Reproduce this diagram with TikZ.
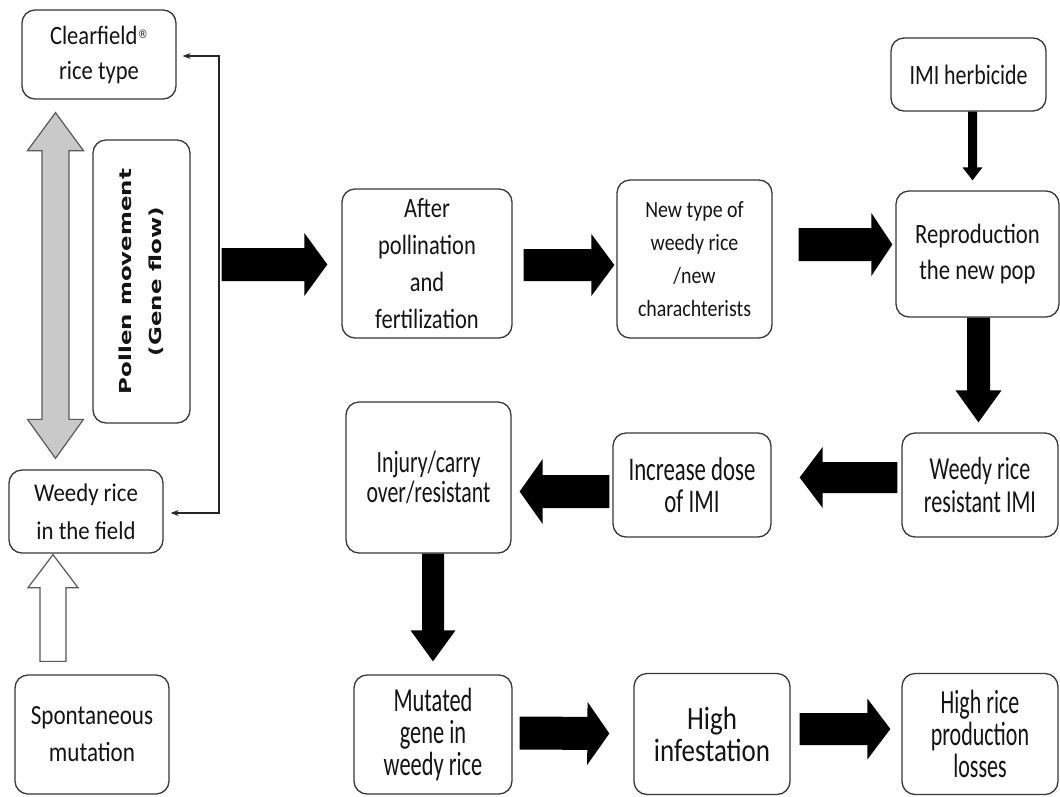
\documentclass[tikz,border=0pt]{standalone}
\usepackage{fontspec}
\usepackage{graphicx}
\setmainfont{Carlito}
\newfontfamily\polfont{DejaVu Sans}
\usetikzlibrary{calc,arrows.meta}

% centred lines of box text: #1 font size, #2 vertical scale, #3 line pitch, #4 lines
\newcommand\bt[4]{\scalebox{1}[#2]{\fontsize{#1pt}{#3pt}\selectfont
  \lineskiplimit=-200pt\lineskip=0pt\let\\\cr
  \vbox{\halign{\hfil##\hfil\cr#4\crcr}}}}

% raised registered sign
\newcommand\regmark{\kern0.5pt\raise5pt\hbox{\polfont\fontsize{10pt}{10pt}\selectfont ®}}

% block arrow from #2 to #3: shaft half width #4, head half width #5, head length #6
\newcommand\blockarrow[6][]{%
  \coordinate (hb) at ($(#3)!#6!(#2)$);
  \path[#1] ($(#2)!#4!90:(#3)$) -- ($(hb)!#4!-90:(#2)$) -- ($(hb)!#5!-90:(#2)$)
    -- (#3) -- ($(hb)!#5!90:(#2)$) -- ($(hb)!#4!90:(#2)$)
    -- ($(#2)!#4!-90:(#3)$) -- cycle;
}

\begin{document}
\begin{tikzpicture}[x=1pt,y=-1pt,
  box/.style={draw=black!78, line width=1.3pt, rounded corners=13pt,
    inner sep=0pt, text=black!92, fill=white},
  blk/.style={fill=black},
  grayar/.style={fill=black!21, draw=black!65, line width=1.2pt, line join=miter},
  whitear/.style={fill=white, draw=black!65, line width=1.2pt, line join=miter},
  link/.style={draw=black!85, line width=1.1pt,
    {Stealth[length=8pt,width=6pt]}-{Stealth[length=8pt,width=6pt]}}]

\fill[white] (0,0) rectangle (1060,796);
\useasboundingbox (0,0) rectangle (1060,796);

% left column
\node[box, minimum width=154pt, minimum height=89pt] (clear) at (99,54.5)
  {\bt{22.6}{1.17}{30}{Clearfield\regmark\\rice type}};
\node[box, minimum width=97pt, minimum height=283pt] (pollen) at (141.5,281.5)
  {\rotatebox{90}{\scalebox{1.39}[1]{\polfont\bfseries\fontsize{16.5pt}{30pt}\selectfont
    \lineskiplimit=-200pt\let\\\cr
    \vbox{\halign{\hfil#\hfil\cr Pollen movement\\(Gene flow)\crcr}}}}};
\node[box, minimum width=154pt, minimum height=83pt] (weedy) at (86,511.5)
  {\bt{22.8}{1.12}{34}{Weedy rice\\in the field}};
\node[box, minimum width=154pt, minimum height=119pt] (spont) at (92,734.5)
  {\bt{23.1}{1.2}{30.8}{Spontaneous\\mutation}};

% top row
\node[box, minimum width=170pt, minimum height=149pt] (after) at (427,263.5)
  {\bt{22.5}{1.24}{29.8}{After\\pollination\\and\\fertilization}};
\node[box, minimum width=155pt, minimum height=158pt] (newtype) at (694.5,259)
  {\bt{19.9}{1.17}{28.2}{New type of\\weedy rice\\/new\\charachterists}};
\node[box, minimum width=155pt, minimum height=73pt] (imi) at (968.5,74.5)
  {\bt{21.9}{1.28}{30}{IMI herbicide}};
\node[box, minimum width=163pt, minimum height=126pt] (repro) at (977.5,254)
  {\bt{22.7}{1.23}{30}{Reproduction\\the new pop}};

% middle row
\node[box, minimum width=156pt, minimum height=104pt] (wres) at (980,485)
  {\bt{22.1}{1.45}{22.1}{Weedy rice\\resistant IMI}};
\node[box, minimum width=158pt, minimum height=104pt] (incr) at (692,485)
  {\bt{22.8}{1.45}{22.1}{Increase dose\\of IMI}};
\node[box, minimum width=165pt, minimum height=151pt] (injury) at (428.5,477.5)
  {\raisebox{-6pt}{\bt{21.8}{1.42}{21.1}{Injury/carry\\over/resistant}}};

% bottom row
\node[box, minimum width=158pt, minimum height=119pt] (mut) at (433,734.5)
  {\bt{22.4}{1.5}{21.3}{Mutated\\gene in\\weedy rice}};
\node[box, minimum width=156pt, minimum height=121pt] (high) at (712,734)
  {\bt{27}{1.2}{26.5}{High\\infestation}};
\node[box, minimum width=156pt, minimum height=121pt] (losses) at (980,734)
  {\bt{22}{1.53}{21}{High rice\\production\\losses}};

% gene flow link between the two rice types
\coordinate (vx) at (219,300);
\draw[link] ($(clear.east)+(6,1.5)$) -| (vx) |- ($(weedy.east)+(7,1.5)$);

% grey double arrow: pollen exchange
\coordinate (gt) at ($(clear.south)+(-43.5,13)$);
\coordinate (gb) at ($(weedy.north)+(-30.5,-11)$);
\coordinate (h1) at ($(gt)!38pt!(gb)$);
\coordinate (h2) at ($(gb)!39pt!(gt)$);
\path[grayar] (gt) -- ($(h1)!28pt!90:(gb)$) -- ($(h1)!13.5pt!90:(gb)$)
  -- ($(h2)!13.5pt!-90:(gt)$) -- ($(h2)!28pt!-90:(gt)$) -- (gb)
  -- ($(h2)!28pt!90:(gt)$) -- ($(h2)!13.5pt!90:(gt)$)
  -- ($(h1)!13.5pt!-90:(gb)$) -- ($(h1)!28pt!-90:(gb)$) -- cycle;

% hollow arrow: spontaneous mutation feeds weedy rice
\coordinate (ws) at ($(spont.north)+(-39,-13)$);
\coordinate (we) at ($(weedy.south)+(-33,1)$);
\blockarrow[whitear]{ws}{we}{13pt}{25pt}{33pt}

% main flow
\coordinate (a1s) at ($(pollen.east |- after.west)+(31,1)$);
\coordinate (a1e) at ($(after.west)+(-14,1)$);
\blockarrow[blk]{a1s}{a1e}{16.5pt}{31.5pt}{23pt}

\coordinate (a2s) at ($(after.east)+(11,1.5)$);
\coordinate (a2e) at ($(newtype.west)+(-2,6)$);
\blockarrow[blk]{a2s}{a2e}{16pt}{31pt}{23pt}

\coordinate (a3s) at ($(newtype.east |- repro.west)+(26,-9.5)$);
\coordinate (a3e) at ($(repro.west)+(-3,-9.5)$);
\blockarrow[blk]{a3s}{a3e}{16.5pt}{31.5pt}{21pt}

\coordinate (a4s) at ($(imi.south)+(4,0)$);
\coordinate (a4e) at ($(repro.north)+(-5,-10)$);
\blockarrow[blk]{a4s}{a4e}{4.5pt}{10pt}{13pt}

\coordinate (a5s) at ($(repro.south)+(1,0)$);
\coordinate (a5e) at ($(wres.north)+(-1.5,-10)$);
\blockarrow[blk]{a5s}{a5e}{11.5pt}{23pt}{32pt}

\coordinate (a6s) at ($(wres.west)+(-4,-7.5)$);
\coordinate (a6e) at ($(incr.east)+(28,-7.5)$);
\blockarrow[blk]{a6s}{a6e}{15.5pt}{30.5pt}{23pt}

\coordinate (a7s) at ($(incr.west)+(-3,6.5)$);
\coordinate (a7e) at ($(injury.east)+(8,14)$);
\blockarrow[blk]{a7s}{a7e}{16.5pt}{32.5pt}{23pt}

\coordinate (a8s) at ($(injury.south)+(4.5,0)$);
\coordinate (a8e) at ($(mut.north)+(0,-13)$);
\blockarrow[blk]{a8s}{a8e}{11pt}{22.5pt}{31pt}

\coordinate (a9s) at ($(mut.east)+(7,-1.5)$);
\coordinate (a9e) at ($(high.west)+(-24,-0.5)$);
\blockarrow[blk]{a9s}{a9e}{16.5pt}{31.5pt}{22pt}

\coordinate (a10s) at ($(high.east)+(9,-5)$);
\coordinate (a10e) at ($(losses.west)+(-11,-5)$);
\blockarrow[blk]{a10s}{a10e}{16pt}{30.5pt}{23pt}

\end{tikzpicture}
\end{document}
